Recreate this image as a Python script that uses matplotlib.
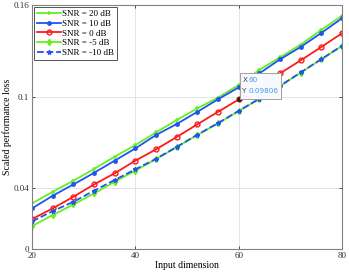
import matplotlib
matplotlib.use("Agg")
import matplotlib.pyplot as plt
from matplotlib.patches import Rectangle

plt.rcParams["font.family"] = ["Liberation Serif", "DejaVu Serif"]

# input dimension
dims = [20, 24, 28, 32, 36, 40, 44, 48, 52, 56, 60, 64, 68, 72, 76, 80]

snr_20 = [0.0300, 0.0376, 0.0448, 0.0525, 0.0606, 0.0682, 0.0765, 0.0846,
          0.0923, 0.0993, 0.1076, 0.1175, 0.1257, 0.1340, 0.1437, 0.1529]
snr_10 = [0.0267, 0.0350, 0.0424, 0.0500, 0.0580, 0.0660, 0.0748, 0.0820,
          0.0900, 0.0982, 0.1060, 0.1152, 0.1244, 0.1325, 0.1417, 0.1513]
snr_0 = [0.0197, 0.0267, 0.0343, 0.0424, 0.0497, 0.0580, 0.0654, 0.0735,
         0.0818, 0.0900, 0.09806, 0.1069, 0.1152, 0.1237, 0.1325, 0.1415]
snr_m5 = [0.0151, 0.0223, 0.0293, 0.0365, 0.0442, 0.0514, 0.0590, 0.0668,
          0.0748, 0.0824, 0.0905, 0.0984, 0.1068, 0.1157, 0.1244, 0.1332]
snr_m10 = [0.0182, 0.0249, 0.0310, 0.0383, 0.0453, 0.0523, 0.0592, 0.0670,
           0.0750, 0.0826, 0.0906, 0.0986, 0.1070, 0.1158, 0.1245, 0.1333]

labels = ["SNR = 20 dB", "SNR = 10 dB", "SNR = 0 dB", "SNR = -5 dB", "SNR = -10 dB"]
xticks = [20, 40, 60, 80]
yticks = [0, 0.04, 0.1, 0.16]
tip_x, tip_y = 60, 0.09806

green = "#66ee22"
blue = "#1f55ee"
red = "#ff1a1a"

fig = plt.figure(figsize=(3.49, 2.78), dpi=100)
ax = fig.add_axes([0.092, 0.104, 0.888, 0.878])

ax.plot(dims, snr_20, color=green, lw=1.3, marker="+", ms=3.5, mew=1.1, label=labels[0])
ax.plot(dims, snr_10, color=blue, lw=1.3, marker="o", ms=2.5, label=labels[1])
ax.plot(dims, snr_0, color=red, lw=1.3, marker="o", ms=3.5, mfc="none", mew=1.0, label=labels[2])
ax.plot(dims, snr_m5, color=green, lw=1.3, marker="d", ms=3.2, label=labels[3])
ax.plot(dims, snr_m10, color=blue, lw=1.3, ls="--", marker="*", ms=3.2, label=labels[4])

ax.set_xlim(20, 80)
ax.set_ylim(0, 0.16)
ax.set_xticks(xticks)
ax.set_yticks(yticks)
ax.set_yticklabels(["0", "0.04", "0.1", "0.16"])
ax.grid(True, color="#e4e4e4", lw=0.7)
ax.set_axisbelow(True)
for s in ax.spines.values():
    s.set_color("#808080")
    s.set_linewidth(0.8)
ax.tick_params(labelsize=6.5, colors="#333333", length=2.5, width=0.6,
               direction="in", top=True, right=True, pad=2)
ax.set_xlabel("Input dimension", fontsize=7, labelpad=1)
ax.set_ylabel("Scaled performance loss", fontsize=7, labelpad=1)

leg = ax.legend(loc="upper left", fontsize=6.5, handlelength=2.6, handletextpad=0.2,
                labelspacing=0.15, borderpad=0.3, borderaxespad=0.25,
                fancybox=False, framealpha=1)
leg.get_frame().set_edgecolor("#555555")
leg.get_frame().set_linewidth(0.7)

# data tip
ax.plot([tip_x], [tip_y], marker="o", ms=2.5, color="#222222", zorder=5)
ax.add_patch(Rectangle((tip_x + 0.25, 0.0984), 7.9, 0.0171, fc="#f7f9fd",
                       ec="#a0a0a0", lw=0.7, zorder=6))
tip_font = dict(fontsize=5.2, family="DejaVu Sans", va="center", ha="left", zorder=7)
ax.text(tip_x + 0.7, 0.1110, "X", color="#444444", **tip_font)
ax.text(tip_x + 1.9, 0.1110, "60", color="#3a9cf0", **tip_font)
ax.text(tip_x + 0.7, 0.1038, "Y", color="#444444", **tip_font)
ax.text(tip_x + 1.9, 0.1038, "0.09806", color="#3a9cf0", **tip_font)

fig.savefig("out.png", dpi=100)
